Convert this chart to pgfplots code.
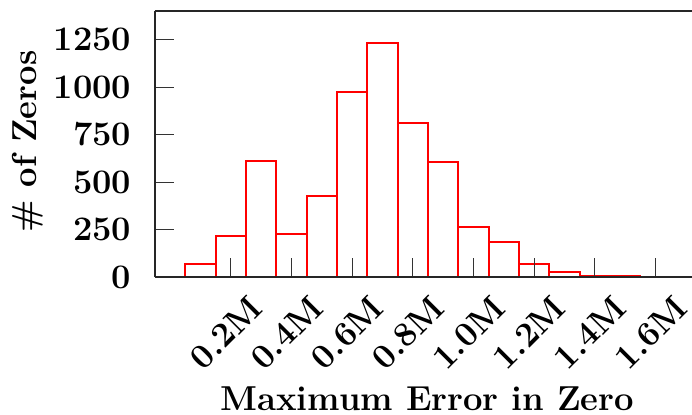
\documentclass[border=0pt]{standalone}
\usepackage{pgfplots}
\pgfplotsset{compat=1.18}

\begin{document}
\begin{tikzpicture}
\begin{axis}[name=ax,scale only axis,width=268.5pt,height=133pt,
    xmin=-0.05,xmax=1.72,ymin=0,ymax=1400,
    axis x line*=box,axis y line*=left,
    axis line style={line width=0.8pt,black!85},
    axis on top,
    xtick={0.2,0.4,0.6,0.8,1.0,1.2,1.4,1.6},
    xticklabels={0.2M,0.4M,0.6M,0.8M,1.0M,1.2M,1.4M,1.6M},
    x tick label as interval=false,
    ytick={0,250,500,750,1000,1250},
    xtick pos=bottom,ytick pos=left,
    tick align=inside,major tick length=9.5pt,
    tick style={line width=0.5pt,black!80},
    /pgf/number format/1000 sep={},
    /pgf/number format/assume math mode=true,
    tick label style={font=\fontsize{17.2}{20}\selectfont\bfseries,inner sep=0pt},
    yticklabel style={xshift=-11.7pt},
    xticklabel style={xshift=8.5pt,yshift=-8pt,rotate=45,anchor=north east},
    label style={font=\fontsize{17.3}{20}\selectfont\bfseries,inner sep=0pt},
    xlabel style={at={(axis description cs:0.507,-0.5015)},anchor=base},
    ylabel style={at={(axis description cs:-0.2365,0.509)},anchor=center},
    xlabel={Maximum Error in Zero},ylabel={\# of Zeros}]
\addplot[ybar interval,draw=red,fill=white,line width=1pt] coordinates
  {(0.05,68)(0.15,217)(0.25,613)(0.35,226)(0.45,427)(0.55,976)(0.65,1233)
   (0.75,808)(0.85,603)(0.95,261)(1.05,186)(1.15,68)(1.25,24)(1.35,7)
   (1.45,3)(1.55,2)(1.65,1)(1.75,0)};
\end{axis}
\pgfresetboundingbox
\useasboundingbox ([xshift=-77.5pt,yshift=5.5pt]ax.north west) rectangle ([yshift=-68.5pt]ax.south east);
\end{tikzpicture}
\end{document}
